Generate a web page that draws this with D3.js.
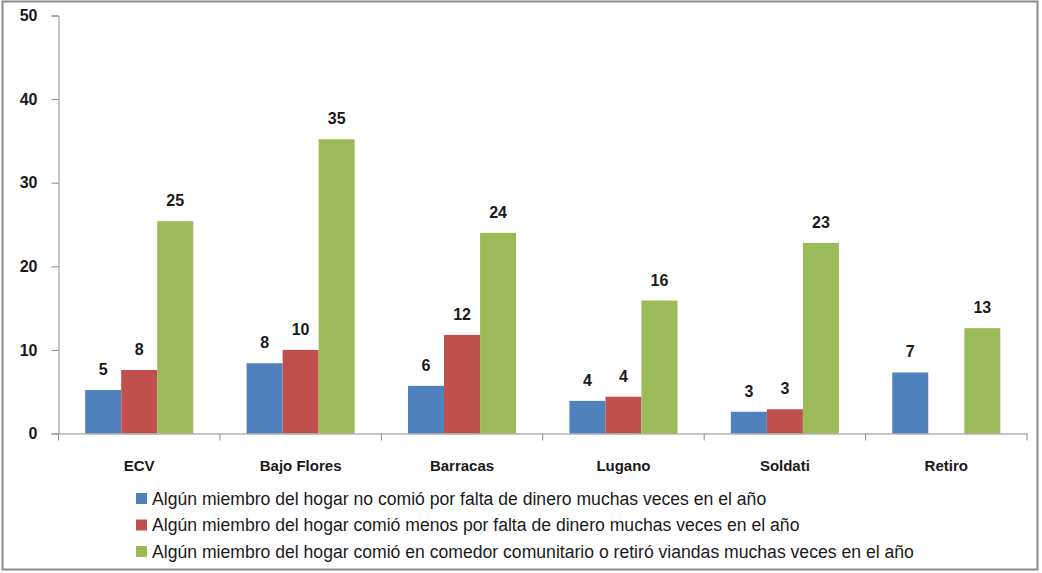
<!DOCTYPE html>
<html><head><meta charset="utf-8">
<script src="https://cdn.jsdelivr.net/npm/d3@7"></script>
<style>
html,body{margin:0;padding:0;background:#fff;}
svg{display:block;font-family:"Liberation Sans",Arial,sans-serif;}
</style></head>
<body>
<svg id="chart" width="1042" height="573"></svg>
<script>
const categories = ["ECV", "Bajo Flores", "Barracas", "Lugano", "Soldati", "Retiro"];
const seriesNames = [
  "Algún miembro del hogar no comió por falta de dinero muchas veces en el año",
  "Algún miembro del hogar comió menos por falta de dinero muchas veces en el año",
  "Algún miembro del hogar comió en comedor comunitario o retiró viandas muchas veces en el año"
];
const noComio = [5.2, 8.4, 5.7, 3.9, 2.6, 7.3];
const comioMenos = [7.6, 10.0, 11.8, 4.4, 2.9, null];
const comedor = [25.4, 35.2, 24.0, 15.9, 22.8, 12.6];
const yTicks = [0, 10, 20, 30, 40, 50];
const colors = ["#4F81BD", "#C0504D", "#9BBB59"];

const seriesValues = [noComio, comioMenos, comedor];
const svg = d3.select("#chart");

// outer frame
svg.append("rect").attr("x", 2.5).attr("y", 1.5).attr("width", 1035).attr("height", 568)
  .attr("fill", "none").attr("stroke", "#8a8a8a").attr("stroke-width", 2);

const y = d3.scaleLinear().domain([0, 50]).range([433.5, 15.5]);
const x0 = d3.scaleBand().domain(categories).range([58.5, 1027]).paddingInner(0).paddingOuter(0);
const x1 = d3.scaleBand().domain(d3.range(3)).range([0, x0.bandwidth()]).paddingInner(0).paddingOuter(0.74);

const fmt = d3.format(".0f");
const axisColor = "#8c8c8c";

// bars
const groups = svg.append("g").selectAll("g").data(categories).join("g")
  .attr("transform", c => `translate(${x0(c)},0)`);
groups.each(function(c, i) {
  const g = d3.select(this);
  seriesValues.forEach((vals, s) => {
    const v = vals[i];
    if (v == null) return;
    g.append("rect").attr("x", x1(s)).attr("width", x1.bandwidth())
      .attr("y", y(v)).attr("height", y(0) - y(v)).attr("fill", colors[s]);
    g.append("text").attr("x", x1(s) + x1.bandwidth() / 2).attr("y", y(v) - 15)
      .attr("text-anchor", "middle").attr("font-size", 16).attr("font-weight", "bold")
      .attr("fill", "#1a1a1a").text(fmt(v));
  });
});

// y axis
const yAxis = svg.append("g").attr("transform", "translate(58.5,0)")
  .call(d3.axisLeft(y).tickValues(yTicks).tickSize(7).tickPadding(14).tickFormat(d3.format("d")));
yAxis.select(".domain").attr("stroke", axisColor);
yAxis.selectAll(".tick line").attr("stroke", axisColor);
yAxis.selectAll(".tick text").attr("font-size", 16).attr("font-weight", "bold").attr("fill", "#1a1a1a")
  .attr("font-family", "Liberation Sans, Arial, sans-serif");

// x axis
const xAxis = svg.append("g").attr("transform", `translate(0,${y(0)})`)
  .call(d3.axisBottom(x0).tickSize(0).tickPadding(27));
xAxis.select(".domain").attr("stroke", axisColor);
xAxis.selectAll(".tick text").attr("font-size", 15).attr("font-weight", "bold").attr("fill", "#1a1a1a")
  .attr("font-family", "Liberation Sans, Arial, sans-serif");
// category divider ticks
const bounds = categories.map(c => x0(c)).concat([x0(categories[categories.length - 1]) + x0.bandwidth()]);
xAxis.selectAll("line.div").data(bounds).join("line").attr("class", "div")
  .attr("x1", d => d).attr("x2", d => d).attr("y1", 0).attr("y2", 7).attr("stroke", axisColor);

// legend
const legend = svg.append("g").attr("transform", "translate(136,493)");
seriesNames.forEach((name, i) => {
  const row = legend.append("g").attr("transform", `translate(0,${i * 26.5})`);
  row.append("rect").attr("width", 11).attr("height", 11).attr("fill", colors[i]);
  row.append("text").attr("x", 16).attr("y", 11.5).attr("font-size", 17.6).attr("fill", "#1a1a1a")
    .text(name);
});
</script>
</body></html>
